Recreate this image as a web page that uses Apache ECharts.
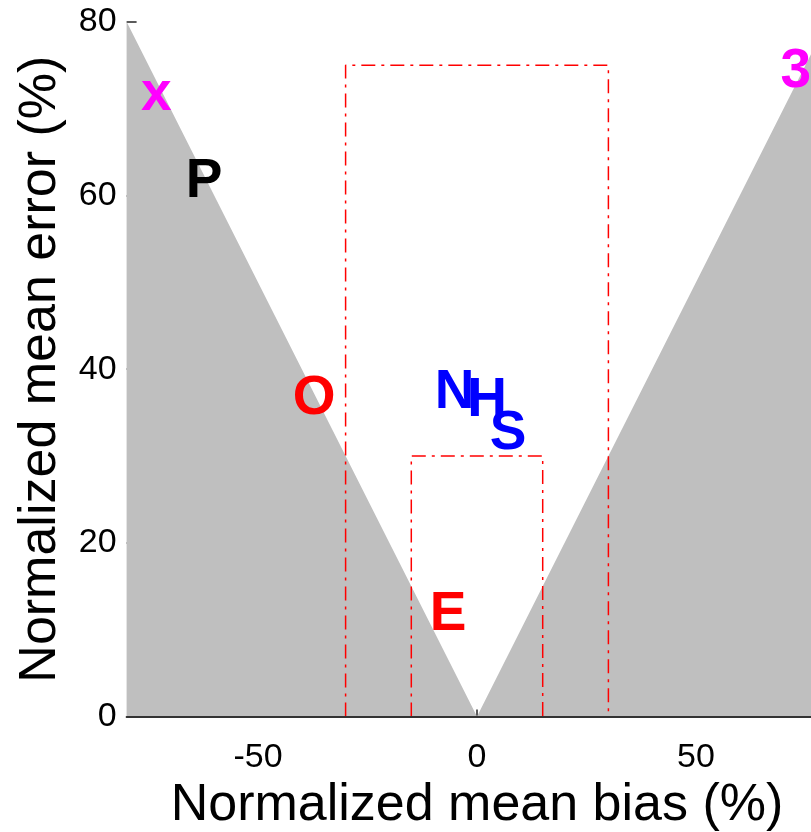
<!DOCTYPE html>
<html>
<head>
<meta charset="utf-8">
<script src="https://cdn.jsdelivr.net/npm/echarts@6/dist/echarts.min.js"></script>
<style>
  html, body { margin: 0; padding: 0; background: #fff; }
  #chart { width: 811px; height: 832px; }
</style>
</head>
<body>
<div id="chart"></div>
<script>
// Axis ranges and ticks
const xRange = [-80, 80];
const yRange = [0, 80];
const xTicks = [-50, 0, 50];
const yTicks = [0, 20, 40, 60, 80];

// Shaded region: mean error below |mean bias|
const shadeX = [-80, 0, 80];
const shadeY = [80, 0, 80];

// Goal / criteria boxes (bias half-width, error limit)
const outerBox = { bias: 30, error: 75 };
const innerBox = { bias: 15, error: 30 };

// Model labels placed at (bias, error)
const labels = ['x', 'P', 'O', 'N', 'H', 'S', 'E', '3'];
const labelBias = [-73.2, -62.3, -37.2, -5.1, 2.3, 7.1, -6.6, 72.8];
const labelError = [71.6, 61.6, 36.6, 37.3, 36.3, 32.5, 11.7, 74.2];

const labelColor = {
  x: '#ff00ff', P: '#000000', O: '#ff0000', N: '#0000ff',
  H: '#0000ff', S: '#0000ff', E: '#ff0000', '3': '#ff00ff'
};

const font = '"Liberation Sans", Arial, Helvetica, sans-serif';

function boxPath(b) {
  return [[-b.bias, 0], [-b.bias, b.error], [b.bias, b.error], [b.bias, 0]];
}

const chart = echarts.init(document.getElementById('chart'), null, { renderer: 'canvas' });

const dashStyle = { color: '#ff0000', width: 1.5, type: [14, 6, 3, 6] };

chart.setOption({
  animation: false,
  backgroundColor: '#ffffff',
  grid: {
    left: 126.6, top: 21.8, width: 700.8, height: 694.7,
    containLabel: false, outerBoundsMode: 'none'
  },
  xAxis: [
    {
      type: 'value', min: xRange[0], max: xRange[1],
      name: 'Normalized mean bias (%)',
      nameLocation: 'middle', nameGap: 63,
      nameTextStyle: { fontFamily: font, fontSize: 52, color: '#000' },
      axisLine: { show: false, onZero: false },
      axisTick: { show: true, inside: true, length: 7, customValues: xTicks,
                  lineStyle: { color: '#262626', width: 1.5 } },
      axisLabel: { show: true, customValues: xTicks, margin: 24,
                   fontFamily: font, fontSize: 34, color: '#000' },
      splitLine: { show: false }
    },
    {
      type: 'value', min: xRange[0], max: xRange[1], position: 'bottom', z: 10,
      axisLine: { show: true, onZero: false, lineStyle: { color: '#333333', width: 2 } },
      axisTick: { show: false }, axisLabel: { show: false }, splitLine: { show: false }
    }
  ],
  yAxis: {
    type: 'value', min: yRange[0], max: yRange[1], interval: 20, position: 'left',
    name: 'Normalized mean error (%)',
    nameLocation: 'middle', nameGap: 60, nameRotate: 90,
    nameTextStyle: { fontFamily: font, fontSize: 52, color: '#000' },
    axisLine: { show: false, onZero: false },
    axisTick: { show: true, inside: true, length: 10, customValues: yTicks,
                lineStyle: { color: '#262626', width: 1.5 } },
    axisLabel: { show: true, margin: 10, fontFamily: font, fontSize: 34, color: '#000' },
    splitLine: { show: false }
  },
  series: [
    {
      type: 'line', z: 1, silent: true, symbol: 'none',
      data: shadeX.map((x, i) => [x, shadeY[i]]),
      lineStyle: { width: 0, color: '#bfbfbf' },
      areaStyle: { color: '#bfbfbf', opacity: 1 }
    },
    {
      type: 'line', z: 3, silent: true, symbol: 'none',
      data: boxPath(outerBox), lineStyle: dashStyle
    },
    {
      type: 'line', z: 3, silent: true, symbol: 'none',
      data: boxPath(innerBox), lineStyle: dashStyle
    },
    {
      type: 'scatter', z: 5, silent: true, symbolSize: 1,
      itemStyle: { color: 'rgba(0,0,0,0)', opacity: 1 },
      data: labels.map((t, i) => ({
        value: [labelBias[i], labelError[i]],
        label: {
          show: true, position: 'inside', formatter: t, opacity: 1,
          color: labelColor[t], fontFamily: font, fontWeight: 'bold', fontSize: 55
        }
      }))
    }
  ]
});
</script>
</body>
</html>
